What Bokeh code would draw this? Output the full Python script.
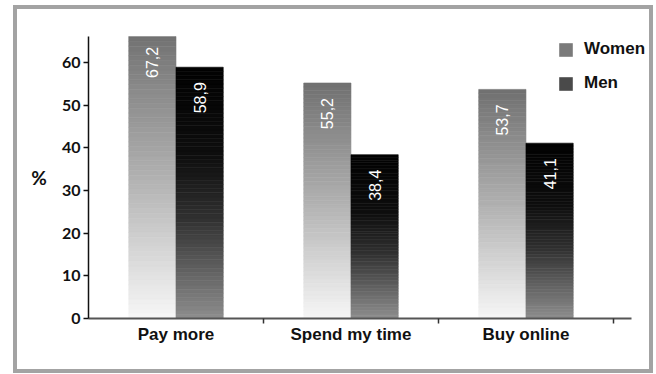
import math
import numpy as np
from bokeh.plotting import figure
from bokeh.models import (Range1d, FixedTicker, Legend, LegendItem, ColumnDataSource)
from bokeh.core.properties import value
from bokeh.embed import file_html
from bokeh.resources import INLINE

# ---- data ----
categories = ["Pay more", "Spend my time", "Buy online"]
women = [67.2, 55.2, 53.7]
men = [58.9, 38.4, 41.1]
series_names = ["Women", "Men"]
y_ticks = [0, 10, 20, 30, 40, 50, 60]

# ---- style ----
BAR_W = 0.27
N_SLICES = 60
X_AXIS_END = 3.103
Y_END = 66.1
women_stops = [(0.0, 112), (0.5, 176), (1.0, 247)]
men_stops = [(0.0, 2), (0.35, 14), (0.6, 48), (1.0, 142)]


def grey_at(stops, t):
    ts = [s[0] for s in stops]
    gs = [s[1] for s in stops]
    g = int(round(np.interp(t, ts, gs)))
    return "#%02x%02x%02x" % (g, g, g)


p = figure(width=656, height=374, output_backend="svg", toolbar_location=None,
           x_range=Range1d(0, 3.206), y_range=Range1d(0, Y_END),
           min_border_left=88, min_border_right=7, min_border_top=36,
           min_border_bottom=56, background_fill_color=None,
           border_fill_color=None, outline_line_color=None)
# grey picture frame painted behind the transparent canvas
p.styles = {"background": ("linear-gradient(#ffffff,#ffffff) 17px 9px / 632px 360px no-repeat, "
                           "linear-gradient(#a3a3a3,#a3a3a3) 13px 5px / 640px 368px no-repeat, "
                           "#ffffff")}
p.xgrid.visible = False
p.ygrid.visible = False


def add_bars(vals, offset_left, stops):
    L, R, B, T, C = [], [], [], [], []
    for i, v in enumerate(vals):
        c = i + 0.5
        left = c + offset_left
        for k in range(N_SLICES):
            y0 = v * k / N_SLICES
            y1 = v * (k + 1) / N_SLICES
            t = 1 - (k + 0.5) / N_SLICES
            L.append(left)
            R.append(left + BAR_W)
            B.append(y0)
            T.append(y1)
            C.append(grey_at(stops, t))
    src = ColumnDataSource(dict(left=L, right=R, bottom=B, top=T, color=C))
    p.quad(left="left", right="right", bottom="bottom", top="top",
           fill_color="color", line_color="color", line_width=0.6, source=src)

add_bars(women, -BAR_W, women_stops)
add_bars(men, 0.0, men_stops)


def fmt(v):
    return ("%.1f" % v).replace(".", ",")

lab_src = ColumnDataSource(dict(
    x=[i + 0.5 - BAR_W / 2 for i in range(len(women))] + [i + 0.5 + BAR_W / 2 for i in range(len(men))],
    y=women + men,
    text=[fmt(v) for v in women] + [fmt(v) for v in men],
))
p.text(x="x", y="y", text="text", source=lab_src, angle=math.pi / 2,
       text_align="right", text_baseline="middle", y_offset=15,
       text_color="white", text_font=value("Liberation Sans"),
       text_font_size="16px")

yax = p.yaxis[0]
yax.ticker = FixedTicker(ticks=y_ticks)
yax.axis_line_color = "#111111"
yax.axis_line_width = 1.5
yax.major_tick_line_color = "#111111"
yax.major_tick_line_width = 1.5
yax.major_tick_out = 5
yax.major_tick_in = 0
yax.minor_tick_line_color = None
yax.major_label_text_font = "Lato"
yax.major_label_text_font_style = "bold"
yax.major_label_text_font_size = "16px"
yax.major_label_text_color = "#111111"
yax.major_label_standoff = 3
yax.axis_label = "%"
yax.axis_label_orientation = "horizontal"
yax.axis_label_text_font = "Lato"
yax.axis_label_text_font_style = "bold"
yax.axis_label_text_font_size = "19px"
yax.axis_label_text_color = "#111111"
yax.axis_label_standoff = 12

xax = p.xaxis[0]
xax.bounds = (0, X_AXIS_END)
xax.ticker = FixedTicker(ticks=[i + 0.5 for i in range(len(categories))],
                         minor_ticks=[i + 1 for i in range(len(categories))])
xax.major_label_overrides = {i + 0.5: c for i, c in enumerate(categories)}
xax.axis_line_color = "#555555"
xax.axis_line_width = 2
xax.major_tick_line_color = None
xax.minor_tick_line_color = "#333333"
xax.minor_tick_line_width = 1.5
xax.minor_tick_out = 5
xax.minor_tick_in = 0
xax.major_label_text_font = "Liberation Sans"
xax.major_label_text_font_style = "bold"
xax.major_label_text_font_size = "17px"
xax.major_label_text_color = "#111111"
xax.major_label_standoff = 0

nan = float("nan")
r_w = p.quad(left=[nan], right=[nan], top=[nan], bottom=[nan], fill_color="#7a7a7a", line_color=None)
r_m = p.quad(left=[nan], right=[nan], top=[nan], bottom=[nan], fill_color="#4a4a4a", line_color=None)
legend = Legend(items=[LegendItem(label=series_names[0], renderers=[r_w]),
                       LegendItem(label=series_names[1], renderers=[r_m])],
                location=(469, 225), glyph_width=17, glyph_height=17,
                label_height=17, spacing=14, padding=0, margin=0,
                border_line_color=None, background_fill_alpha=0,
                label_text_font="Liberation Sans", label_text_font_style="bold",
                label_text_font_size="17px", label_text_color="#111111",
                label_standoff=10)
p.add_layout(legend)

open("out.html", "w").write(file_html(p, INLINE))
